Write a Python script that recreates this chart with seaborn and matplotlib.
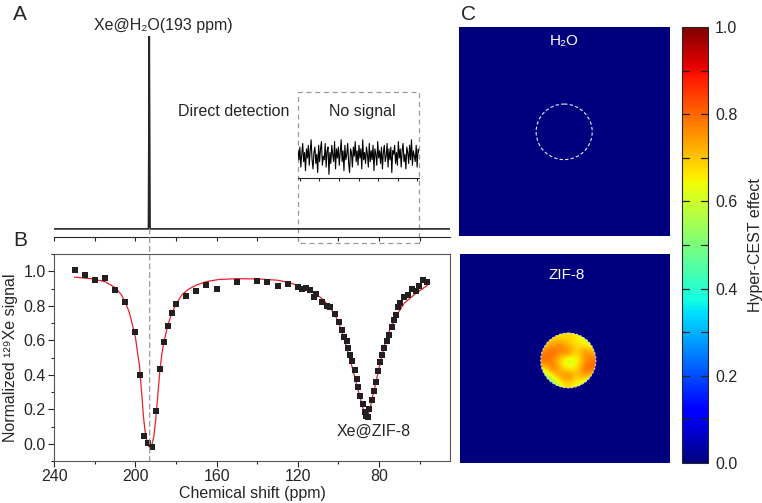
import numpy as np
import pandas as pd
import matplotlib.pyplot as plt
import seaborn as sns
from matplotlib.patches import Circle, Rectangle, ConnectionPatch
from matplotlib.ticker import MultipleLocator

# ---- panel A: direct 129Xe detection ----
spec_ppm = [240, 193.6, 193.2, 192.8, 45]
spec_int = [0, 0, 1, 0, 0]
noise_int = [0.3, -0.2, 0.5, -0.6, 0.1, 0.7, -0.3, 0.2, -0.8, 0.4, -0.1, 0.6, -0.5, 0.3, 0.9,
             -0.2, -0.7, 0.2, 0.5, -0.4, 0.1, -0.9, 0.6, -0.3, 0.4, 0.8, -0.5, 0.0, -0.2, 0.7,
             -0.6, 0.3, 0.5, -1.0, 0.2, -0.4, 0.6, 0.1, -0.3, 0.8, -0.7, 0.4, -0.1, 0.5, -0.5,
             0.2, 0.9, -0.3, 0.3, -0.8, 0.6, -0.2, 0.1, 0.7, -0.4, -0.9, 0.4, 0.2, -0.6, 0.5,
             0.0, 0.8, -0.3, 0.3, -0.5, 0.6, -0.1, 0.4, -0.7, 0.9, -0.2, 0.2, -0.4, 0.5, 0.1,
             -0.6, 0.7, -0.3, 0.3, -0.2, 0.6, -0.8, 0.4, 0.1, -0.5, 0.8, -0.1, 0.3, -0.4, 0.5,
             -0.7, 0.2, 0.6, -0.3, 0.0, 0.7, -0.6, 0.4, -0.2, 0.5, -0.9, 0.3, 0.1, 0.6, -0.4,
             0.2, -0.5, 0.8, -0.1, 0.4, -0.6, 0.3, 0.7, -0.3, 0.1, -0.7, 0.5, 0.2, -0.4, 0.6,
             -0.2, 0.9, -0.5, 0.3, 0.0, -0.3, 0.6, -0.6, 0.4, 0.2]

# ---- panel B: hyper-CEST z-spectrum ----
cest_ppm = [230, 225, 220, 215, 210, 205, 200, 198, 196, 194, 192, 190, 188, 186, 184, 182,
            180, 175, 170, 165, 160, 150, 140, 135, 130, 125, 120, 118, 116, 114, 112,
            110.8, 108.0, 105.8, 103.9, 101.7, 99.8, 98.4, 97.3, 96.0, 95.3, 94.1, 93.1,
            91.9, 90.9, 90.1, 89.2, 88.0, 87.0, 86.4, 85.4, 84.9, 83.6, 82.5, 81.6, 80.3,
            79.5, 78.3, 77.3, 76.2, 75.0, 73.7, 72.7, 71.8, 70.8, 69.6, 67.8, 65.8, 63.9,
            61.9, 60.3, 58.3, 56.1]
cest_signal = [1.008, 0.977, 0.952, 0.959, 0.89, 0.824, 0.647, 0.40, 0.043, 0.004, -0.017,
               0.19, 0.436, 0.587, 0.68, 0.758, 0.808, 0.855, 0.886, 0.918, 0.90, 0.938,
               0.944, 0.94, 0.917, 0.926, 0.909, 0.897, 0.905, 0.891, 0.853,
               0.866, 0.824, 0.80, 0.79, 0.75, 0.703, 0.66, 0.62, 0.597, 0.554, 0.517, 0.477,
               0.426, 0.376, 0.33, 0.275, 0.229, 0.186, 0.159, 0.155, 0.20, 0.256, 0.308,
               0.358, 0.419, 0.475, 0.514, 0.556, 0.597, 0.63, 0.674, 0.717, 0.746, 0.79,
               0.814, 0.853, 0.862, 0.90, 0.888, 0.917, 0.95, 0.938]
fit_ppm = [230, 222, 215, 210, 207, 205, 203, 201.5, 200, 199, 198, 197, 196, 195, 194, 193,
           192, 191, 190, 189, 188, 187, 186, 184, 182, 180, 177, 174, 170, 165, 159, 150,
           139, 130, 125, 120, 116, 113, 111, 109, 107, 105, 103, 101, 99.5, 98, 96.5, 95,
           93.5, 92, 90.5, 89, 88, 87, 86, 85, 84, 83, 82, 80.5, 79, 77.5, 76, 74, 72, 70,
           67.5, 65, 62, 59, 55.3]
fit_signal = [0.966, 0.957, 0.94, 0.905, 0.865, 0.82, 0.76, 0.69, 0.615, 0.53, 0.45, 0.30,
              0.15, 0.045, 0.0, -0.025, -0.01, 0.04, 0.14, 0.28, 0.42, 0.52, 0.59, 0.69,
              0.76, 0.81, 0.865, 0.895, 0.92, 0.94, 0.952, 0.957, 0.955, 0.948, 0.937,
              0.918, 0.897, 0.88, 0.865, 0.85, 0.83, 0.80, 0.77, 0.73, 0.69, 0.64, 0.58,
              0.52, 0.455, 0.39, 0.32, 0.255, 0.21, 0.18, 0.168, 0.18, 0.225, 0.28, 0.33,
              0.41, 0.49, 0.56, 0.62, 0.68, 0.725, 0.77, 0.815, 0.84, 0.87, 0.895, 0.926]

# ---- panel C: hyper-CEST maps ----
h2o_map = [[0, 0, 0, 0],
           [0, 0, 0, 0],
           [0, 0, 0, 0],
           [0, 0, 0, 0]]
zif_map = [[0.66, 0.68, 0.66, 0.68, 0.66, 0.60, 0.55],
           [0.70, 0.74, 0.78, 0.70, 0.67, 0.66, 0.62],
           [0.78, 0.82, 0.76, 0.80, 0.66, 0.79, 0.72],
           [0.80, 0.76, 0.66, 0.56, 0.63, 0.74, 0.80],
           [0.68, 0.82, 0.70, 0.65, 0.67, 0.82, 0.80],
           [0.52, 0.66, 0.76, 0.80, 0.69, 0.75, 0.66],
           [0.42, 0.48, 0.65, 0.67, 0.64, 0.58, 0.52]]
cbar_ticks = [0.0, 0.2, 0.4, 0.6, 0.8, 1.0]

sns.set_style('ticks')
plt.rcParams['font.family'] = ['Liberation Sans', 'DejaVu Sans']
plt.rcParams['axes.linewidth'] = 0.8

W, H = 762, 503
fig = plt.figure(figsize=(W / 100, H / 100), dpi=100)


def px_axes(l, t, r, b):
    return fig.add_axes([l / W, 1 - b / H, (r - l) / W, (b - t) / H])


dash = (0, (4, 3))
gray = '#9a9a9a'

# A
axA = px_axes(54.3, 36, 450, 237)
sns.lineplot(x=spec_ppm, y=spec_int, ax=axA, color='#262626', lw=1.2, sort=False)
axA.set_xlim(240, 45)
axA.set_ylim(-0.042, 1.0)
for s in ['left', 'top', 'right']:
    axA.spines[s].set_visible(False)
axA.set_xticks(np.arange(240, 59, -20))
axA.set_xticklabels([])
axA.set_yticks([])
axA.tick_params(axis='x', length=3, width=0.8, direction='out')
axA.text(186.3, 1.057, 'Xe@H\u2082O(193 ppm)', ha='center', va='center', fontsize=11.5)
axA.text(151.8, 0.611, 'Direct detection', ha='center', va='center', fontsize=11.5)
axA.text(88.2, 0.611, 'No signal', ha='center', va='center', fontsize=11.5)
axA.add_patch(Rectangle((60.1, -0.073), 59.6, 0.783, fill=False, ec=gray, lw=0.9,
                        ls=dash, clip_on=False))

# inset noise
axN = px_axes(298, 138, 419, 178)
sns.lineplot(x=np.linspace(-0.1, 6.1, len(noise_int)), y=noise_int, ax=axN,
             color='black', lw=0.8)
axN.set_xlim(-0.1, 6.1)
axN.set_ylim(-1.2, 1.0)
for s in ['left', 'top', 'right']:
    axN.spines[s].set_visible(False)
axN.set_xticks(range(7))
axN.set_xticklabels([])
axN.set_yticks([])
axN.tick_params(axis='x', length=2.5, width=0.8, direction='out')
axN.patch.set_alpha(0)

# B
axB = px_axes(54.3, 254, 450, 461)
sns.lineplot(x=fit_ppm, y=fit_signal, ax=axB, color='#e8202a', lw=0.9, sort=False)
sns.scatterplot(x=cest_ppm, y=cest_signal, ax=axB, marker='s', s=16, color='#231f20',
                linewidth=0, zorder=3)
axB.set_xlim(240, 45)
axB.set_ylim(-0.1, 1.1)
axB.xaxis.set_major_locator(MultipleLocator(40))
axB.xaxis.set_minor_locator(MultipleLocator(20))
axB.set_yticks(cbar_ticks)
axB.set_yticklabels([f'{t:.1f}' for t in cbar_ticks])
axB.yaxis.set_minor_locator(MultipleLocator(0.1))
axB.tick_params(which='major', length=4, width=0.8, labelsize=11.5, pad=2)
axB.tick_params(which='minor', length=2.5, width=0.8)
for s in axB.spines.values():
    s.set_color('#555555')
axB.set_xlabel('Chemical shift (ppm)', fontsize=11.5, labelpad=1)
axB.set_ylabel('Normalized \u00b9\u00b2\u2079Xe signal', fontsize=11.5, labelpad=4)
axB.text(82.6, 0.07, 'Xe@ZIF-8', ha='center', va='center', fontsize=11.5)

# guide lines across panels
fig.add_artist(ConnectionPatch((193, 0), (193, -0.1), 'data', 'data', axesA=axA, axesB=axB,
                               color=gray, lw=0.9, ls=dash))
fig.add_artist(ConnectionPatch((86, -0.073), (86, 0.16), 'data', 'data', axesA=axA,
                               axesB=axB, color=gray, lw=0.9, ls=dash))

# C
axC1 = px_axes(459, 27, 670, 236)
axC1.imshow(h2o_map, cmap='jet', vmin=0, vmax=1, extent=[0, 64, 64, 0], aspect='auto')
axC1.add_patch(Circle((31.9, 32.1), 8.5, fill=False, ec='#e8e8f4', lw=0.8, ls=(0, (3, 2))))
axC1.set_axis_off()
axC1.text(0.5, 0.935, 'H\u2082O', transform=axC1.transAxes, color='white', ha='center',
          va='center', fontsize=11)

axC2 = px_axes(460, 254, 670, 463)
axC2.imshow(h2o_map, cmap='jet', vmin=0, vmax=1, extent=[0, 64, 64, 0], aspect='auto')
cx, cy, r = 33.0, 32.6, 8.4
im = axC2.imshow(zif_map, cmap='jet', vmin=0, vmax=1, extent=[cx - r, cx + r, cy + r, cy - r],
                 aspect='auto', interpolation='bicubic')
im.set_clip_path(Circle((cx, cy), r, transform=axC2.transData))
axC2.add_patch(Circle((cx, cy), r, fill=False, ec='#d8d8e8', lw=0.8, ls=(0, (2, 1.5))))
axC2.set_xlim(0, 64)
axC2.set_ylim(64, 0)
axC2.set_axis_off()
axC2.text(0.51, 0.9, 'ZIF-8', transform=axC2.transAxes, color='white', ha='center',
          va='center', fontsize=11)

cax = px_axes(682, 27, 708, 463)
cb = fig.colorbar(im, cax=cax)
cb.set_ticks(cbar_ticks)
cb.set_ticklabels([f'{t:.1f}' for t in cbar_ticks])
cb.outline.set_linewidth(0.8)
cb.set_label('Hyper-CEST effect', fontsize=11.5, labelpad=8)
cax.tick_params(which='major', direction='in', length=0, labelsize=11.5, pad=5)
# inward tick marks on both sides, every 0.1
for lv in np.arange(0.1, 0.95, 0.1):
    cax.plot([0, 0.28], [lv, lv], color='#222222', lw=0.9, transform=cax.get_yaxis_transform(),
             zorder=5)
    cax.plot([0.72, 1], [lv, lv], color='#222222', lw=0.9, transform=cax.get_yaxis_transform(),
             zorder=5)

# panel letters
fig.text(20 / W, 1 - 14 / H, 'A', fontsize=15, ha='center', va='center')
fig.text(20 / W, 1 - 241 / H, 'B', fontsize=15, ha='center', va='center')
fig.text(468 / W, 1 - 14 / H, 'C', fontsize=15, ha='center', va='center')

fig.savefig('out.png', dpi=100)
